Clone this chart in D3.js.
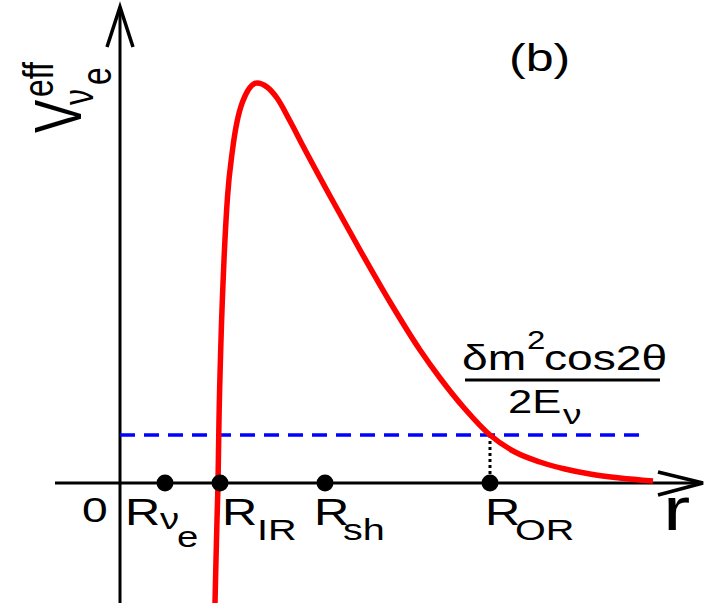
<!DOCTYPE html>
<html>
<head>
<meta charset="utf-8">
<script src="https://cdn.jsdelivr.net/npm/d3@7"></script>
<style>
  html, body { margin: 0; padding: 0; background: #fff; }
  svg { display: block; }
  text { font-family: "Liberation Sans", Arial, Helvetica, sans-serif; fill: #000; }
</style>
</head>
<body>
<svg id="chart" width="704" height="603"></svg>
<script>
// Effective potential V_eff(r) sketch, arbitrary units
const radius    = [1.90, 1.92, 1.94, 1.96, 1.98, 2.02, 2.08, 2.15, 2.25, 2.45, 2.74, 2.94, 3.14, 3.40, 3.66, 4.20, 4.80, 5.40, 6.00, 6.40, 6.90, 7.40, 7.90, 8.40, 8.90, 9.40, 10.00, 10.66];
const potential = [-2.40, -1.54, -0.74, 0.00, 1.26, 2.86, 4.46, 5.72, 6.66, 7.62, 8.00, 7.92, 7.70, 7.24, 6.74, 5.74, 4.66, 3.62, 2.66, 2.10, 1.48, 0.96, 0.62, 0.42, 0.28, 0.18, 0.10, 0.04];

// characteristic radii marked on the r axis
const markerRadius = [0.9, 2.0, 4.1, 7.4];
const markerMain   = ["R", "R", "R", "R"];
const markerSub    = ["ν", "IR", "sh", "OR"];
const markerSubSub = ["e", "", "", ""];

// resonance level δm²cos2θ / 2E_ν
const resonanceLevel = 0.96;
const resonanceEnd   = 10.42;
const outerResonance = 7.4;

// axis extents
const rAxisExtent = [-1.3, 11.66];
const vAxisExtent = [-2.4, 9.52];
const originLabel = "0";

const svg = d3.select("#chart");
const x = d3.scaleLinear().domain([0, 10]).range([120, 620]);
const y = d3.scaleLinear().domain([0, 8]).range([483, 83]);

const sx = 1.32; // horizontal stretch of the lettering

function label(px, py, str, size, rot) {
  return svg.append("text")
    .attr("transform", `translate(${px},${py}) scale(${sx},1)` + (rot ? " rotate(-90)" : ""))
    .attr("font-size", size)
    .text(str);
}

// axes
svg.append("line")
  .attr("x1", x(rAxisExtent[0])).attr("x2", x(rAxisExtent[1]))
  .attr("y1", y(0)).attr("y2", y(0))
  .attr("stroke", "#000").attr("stroke-width", 3);
svg.append("line")
  .attr("x1", x(0)).attr("x2", x(0))
  .attr("y1", y(vAxisExtent[0])).attr("y2", y(vAxisExtent[1]))
  .attr("stroke", "#000").attr("stroke-width", 3);

// arrowheads
const xt = x(rAxisExtent[1]), yt = y(vAxisExtent[1]);
svg.append("path")
  .attr("d", `M${xt - 45},${y(0) - 11} L${xt},${y(0)} L${xt - 45},${y(0) + 12}`)
  .attr("fill", "none").attr("stroke", "#000").attr("stroke-width", 3.5);
svg.append("path")
  .attr("d", `M${x(0) - 13},${yt + 40} L${x(0)},${yt} L${x(0) + 13},${yt + 40}`)
  .attr("fill", "none").attr("stroke", "#000").attr("stroke-width", 3.5);

// resonance level
svg.append("line")
  .attr("x1", x(0)).attr("x2", x(resonanceEnd))
  .attr("y1", y(resonanceLevel)).attr("y2", y(resonanceLevel))
  .attr("stroke", "#0000ff").attr("stroke-width", 3.5)
  .attr("stroke-dasharray", "15,9");

// drop line at outer resonance
svg.append("line")
  .attr("x1", x(outerResonance)).attr("x2", x(outerResonance))
  .attr("y1", y(resonanceLevel)).attr("y2", y(0))
  .attr("stroke", "#000").attr("stroke-width", 3)
  .attr("stroke-dasharray", "3,3");

// potential curve
const line = d3.line()
  .x((d, i) => x(radius[i]))
  .y((d, i) => y(potential[i]))
  .curve(d3.curveMonotoneX);
svg.append("path")
  .datum(radius)
  .attr("d", line)
  .attr("fill", "none")
  .attr("stroke", "#ff0000")
  .attr("stroke-width", 5.5)
  .attr("stroke-linecap", "butt");

// markers
svg.selectAll("circle.marker")
  .data(markerRadius)
  .join("circle")
  .attr("class", "marker")
  .attr("cx", d => x(d)).attr("cy", y(0)).attr("r", 8.5)
  .attr("fill", "#000");

// marker labels
const mainOffset = [-40, 2, -11, -5];
const subOffset  = [38, 37, 18, 25];
markerRadius.forEach((r, i) => {
  const px = x(r);
  label(px + mainOffset[i], 525, markerMain[i], 37);
  if (markerSubSub[i]) {
    label(px + mainOffset[i] + 35, 529, markerSub[i], 29);
    label(px + mainOffset[i] + 52, 547, markerSubSub[i], 29);
  } else {
    label(px + subOffset[i], 540, markerSub[i], 30);
  }
});

// origin and r-axis labels
label(x(0) - 38, 522, originLabel, 35);
label(x(rAxisExtent[1]) - 40, 530, "r", 62);

// panel tag
label(509, 71, "(b)", 38);

// y-axis title V^eff_{νe}
label(81, 133, "V", 50, true);
label(53, 97, "eff", 32, true);
label(93, 105, "ν", 32, true);
label(111, 85, "e", 32, true);

// resonance fraction
label(462, 370, "δm", 35);
label(527, 349, "2", 25);
label(544, 370, "cos2θ", 35);
svg.append("line")
  .attr("x1", 465).attr("x2", 660).attr("y1", 380).attr("y2", 380)
  .attr("stroke", "#000").attr("stroke-width", 3);
label(508, 413, "2E", 33);
label(563, 424, "ν", 28);
</script>
</body>
</html>
